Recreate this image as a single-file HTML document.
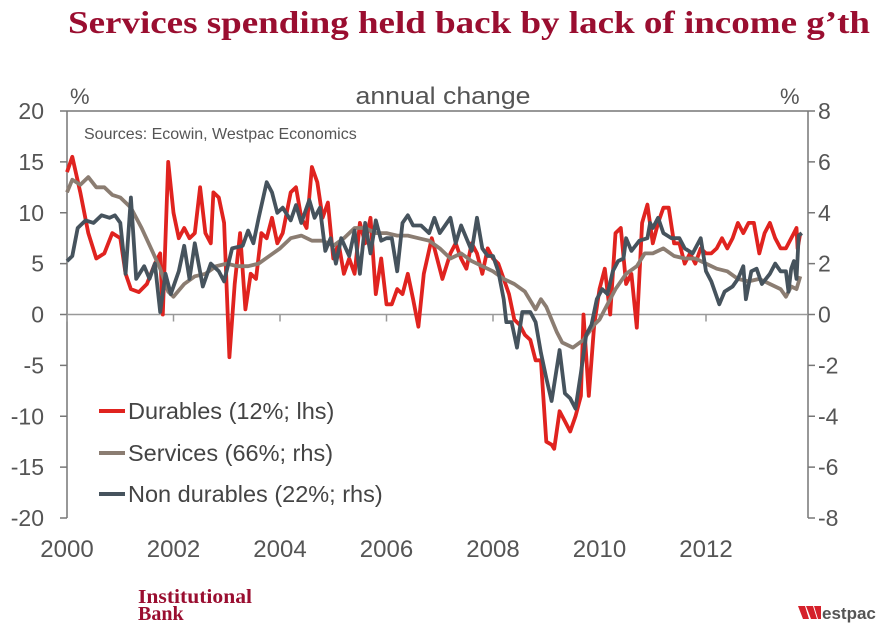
<!DOCTYPE html>
<html><head><meta charset="utf-8">
<style>
html,body{margin:0;padding:0;background:#fff;}
svg{display:block;font-family:"Liberation Sans",sans-serif;}
</style></head>
<body>
<svg id="chart" width="884" height="627" viewBox="0 0 884 627">
<text x="68" y="33" font-family="Liberation Serif,serif" font-weight="bold" font-size="32" fill="#9a0e30" textLength="802" lengthAdjust="spacingAndGlyphs">Services spending held back by lack of income g’th</text>
<g id="axes"></g>
<text x="443" y="104" text-anchor="middle" font-size="24" fill="#555" textLength="175" lengthAdjust="spacingAndGlyphs">annual change</text>
<text x="70" y="104" font-size="22" fill="#555">%</text>
<text x="780" y="104" font-size="22" fill="#555">%</text>
<text x="84" y="139" font-size="16" fill="#555">Sources: Ecowin, Westpac Economics</text>
<g id="series"></g>
<g>
<line x1="99" y1="411" x2="125" y2="411" stroke="#e0231f" stroke-width="4"/>
<text x="128" y="419" font-size="23.5" fill="#444">Durables (12%; lhs)</text>
<line x1="99" y1="453" x2="125" y2="453" stroke="#8b7d72" stroke-width="4"/>
<text x="128" y="461" font-size="23.5" fill="#444">Services (66%; rhs)</text>
<line x1="99" y1="494" x2="125" y2="494" stroke="#46535d" stroke-width="4"/>
<text x="128" y="502" font-size="23.5" fill="#444">Non durables (22%; rhs)</text>
</g>
<text x="138" y="603" font-family="Liberation Serif,serif" font-weight="bold" font-size="20" fill="#9a0e30" textLength="114" lengthAdjust="spacingAndGlyphs">Institutional</text>
<text x="138" y="620" font-family="Liberation Serif,serif" font-weight="bold" font-size="20" fill="#9a0e30">Bank</text>
<g>
<polygon points="798,606 805,606 809,619 803,619" fill="#d5202a"/>
<polygon points="806,606 813,606 817,619 811,619" fill="#d5202a"/>
<polygon points="814,606 821,606 821,619 818,619" fill="#d5202a"/>
<text x="822" y="619" font-size="17" fill="#555" font-weight="bold">estpac</text>
</g>
</svg>
<script>
const durX=[2000,2000.1,2000.25,2000.4,2000.55,2000.7,2000.85,2001,2001.1,2001.2,2001.35,2001.5,2001.65,2001.75,2001.8,2001.9,2002,2002.1,2002.2,2002.3,2002.4,2002.5,2002.6,2002.7,2002.75,2002.85,2002.95,2003.05,2003.15,2003.25,2003.35,2003.45,2003.55,2003.65,2003.75,2003.85,2003.95,2004.05,2004.2,2004.3,2004.4,2004.5,2004.6,2004.7,2004.8,2004.9,2005,2005.1,2005.2,2005.3,2005.4,2005.5,2005.6,2005.7,2005.8,2005.9,2006,2006.1,2006.2,2006.3,2006.4,2006.5,2006.6,2006.7,2006.85,2006.95,2007.05,2007.2,2007.3,2007.4,2007.5,2007.6,2007.7,2007.8,2007.9,2008,2008.1,2008.2,2008.3,2008.4,2008.5,2008.6,2008.7,2008.8,2008.9,2009,2009.1,2009.15,2009.25,2009.35,2009.45,2009.55,2009.65,2009.7,2009.8,2009.9,2010,2010.1,2010.2,2010.3,2010.4,2010.5,2010.6,2010.7,2010.8,2010.9,2011,2011.1,2011.2,2011.3,2011.4,2011.5,2011.6,2011.7,2011.8,2011.9,2012,2012.1,2012.2,2012.3,2012.4,2012.5,2012.6,2012.7,2012.8,2012.9,2013,2013.1,2013.2,2013.3,2013.4,2013.5,2013.6,2013.65,2013.7,2013.72,2013.77];
const durY=[14,15.5,12,8,5.5,6,8,7.5,4,2.5,2.2,3,5,6,0,15,10,7.5,8.5,7.5,8,12.5,8,7,12,11.5,9,-4.2,3,8,0.5,4,3.5,8,7.5,9.5,7,8,12,12.5,9.5,8.5,14.5,13,9.5,11,5.5,7,4,5.5,4,9,7,9.5,2,5.5,1,1,2.5,2,4,1.5,-1.2,4,7.5,5.5,3.5,6,7,5.5,4.5,7,6,4,6.5,5.5,5,3.5,2,-0.5,-1,-2,-2.5,-4.5,-4.5,-12.5,-12.8,-13.2,-9.5,-10.5,-11.5,-10,-8,0,-8,-1,2.5,4.5,0,8,8.5,3,4,-1.3,9,10.8,7,9,10.5,10.5,7,7,5,6,5,6.5,6,6,6.5,7.5,6.5,7.5,9,8,9,9,6,8,9,7.5,6.5,6.5,7.5,8,8.5,6.5,8];
const svcX=[2000,2000.1,2000.25,2000.4,2000.55,2000.7,2000.85,2001,2001.2,2001.4,2001.6,2001.75,2001.9,2002,2002.2,2002.4,2002.6,2002.8,2003,2003.2,2003.4,2003.6,2003.8,2004,2004.2,2004.4,2004.6,2004.8,2005,2005.2,2005.4,2005.6,2005.8,2006,2006.2,2006.4,2006.6,2006.8,2007,2007.2,2007.4,2007.6,2007.8,2008,2008.2,2008.4,2008.6,2008.8,2008.9,2009,2009.2,2009.3,2009.5,2009.7,2009.9,2010,2010.15,2010.3,2010.5,2010.7,2010.85,2011,2011.2,2011.4,2011.6,2011.8,2012,2012.2,2012.4,2012.6,2012.8,2013,2013.2,2013.4,2013.5,2013.6,2013.7,2013.77];
const svcY=[4.8,5.3,5.1,5.4,5,5,4.7,4.6,4.2,3.4,2.5,1.8,0.9,0.7,1.2,1.5,1.6,1.9,2,1.9,1.9,2,2.3,2.6,3,3.1,2.9,2.9,2.7,3,3.4,3.4,3.2,3.2,3.1,3.1,3,2.9,2.6,2.2,2.4,2.1,1.9,1.7,1.4,1.2,0.9,0.2,0.6,0.3,-0.7,-1.1,-1.3,-1,-0.4,-0.2,0.4,1,1.6,1.9,2.4,2.4,2.6,2.3,2.2,2.2,2,1.8,1.7,1.4,1.3,1.4,1.2,1,0.7,1.1,1,1.5];
const ndX=[2000,2000.1,2000.2,2000.35,2000.5,2000.65,2000.8,2000.9,2001,2001.1,2001.2,2001.3,2001.45,2001.55,2001.65,2001.75,2001.85,2001.95,2002.1,2002.2,2002.3,2002.4,2002.55,2002.7,2002.85,2002.95,2003.1,2003.3,2003.4,2003.5,2003.6,2003.75,2003.85,2003.95,2004.05,2004.2,2004.3,2004.4,2004.55,2004.65,2004.75,2004.85,2004.95,2005.05,2005.15,2005.3,2005.4,2005.5,2005.6,2005.7,2005.8,2005.9,2006,2006.1,2006.2,2006.3,2006.4,2006.5,2006.65,2006.8,2006.9,2007,2007.1,2007.2,2007.3,2007.4,2007.5,2007.6,2007.7,2007.8,2007.9,2008,2008.1,2008.2,2008.25,2008.35,2008.45,2008.55,2008.7,2008.8,2008.9,2009,2009.1,2009.25,2009.35,2009.45,2009.55,2009.65,2009.75,2009.85,2009.95,2010.05,2010.15,2010.25,2010.35,2010.45,2010.5,2010.6,2010.75,2010.9,2010.95,2011,2011.1,2011.2,2011.35,2011.5,2011.6,2011.75,2011.9,2012,2012.1,2012.25,2012.35,2012.5,2012.6,2012.7,2012.75,2012.85,2012.95,2013.05,2013.2,2013.3,2013.4,2013.5,2013.55,2013.6,2013.65,2013.7,2013.74,2013.8];
const ndY=[2.1,2.3,3.4,3.7,3.6,3.9,3.8,3.9,3.6,1.6,4.6,1.4,1.9,1.4,2,0.1,1.6,0.8,1.7,2.7,1.4,2.8,1.1,2,1.7,1.3,2.6,2.7,3.3,2.8,3.8,5.2,4.8,4,4.2,3.7,4.3,3.6,4.5,3.8,4.2,2.5,3,2,3,2.3,3.3,1.6,3.6,2.4,3.7,2.9,3,3,1.7,3.6,3.9,3.5,3.5,3.2,3.8,3.2,3.5,3.8,2.8,3.5,3,2.5,3.8,2.6,2.3,2.3,1.7,0.6,-0.3,-0.3,-1.3,0.1,0.1,-0.3,-1.5,-2.5,-3.4,-1.4,-3.1,-3.3,-3.7,-2.3,-0.8,-0.4,0.6,1,0.8,1.7,2.1,2.2,3,2.5,2.9,3,3.6,3.4,3.8,3.2,3,3,2.6,2.4,3,1.7,1.3,0.4,0.9,1.1,1.4,1.9,0.6,1.7,1.8,1.2,1.6,2,1.7,1.7,0.9,1.8,2.1,1.4,3.1,3.2];
const lhsTicks=[20,15,10,5,0,-5,-10,-15,-20];
const rhsTicks=[8,6,4,2,0,-2,-4,-6,-8];
const yearTicks=[2000,2002,2004,2006,2008,2010,2012];

const L=67,R=808,T=111,B=518;
const xS=y=>L+(y-2000)*53.25;
const yL=v=>T+(20-v)/40*(B-T);
const yR=v=>T+(8-v)/16*(B-T);
const NS="http://www.w3.org/2000/svg";
function mk(tag,attrs,parent){const e=document.createElementNS(NS,tag);for(const k in attrs)e.setAttribute(k,attrs[k]);parent.appendChild(e);return e;}
const ax=document.getElementById('axes');
const g=document.getElementById('series');
let e;
e=mk('line',{x1:L,y1:T,x2:R,y2:T,stroke:'#777','stroke-width':1.5},ax);


e=mk('line',{x1:L,y1:T,x2:L,y2:B,stroke:'#777','stroke-width':1.5},ax);


e=mk('line',{x1:R,y1:T,x2:R,y2:B,stroke:'#777','stroke-width':1.5},ax);


e=mk('line',{x1:L,y1:yL(0),x2:R,y2:yL(0),stroke:'#999','stroke-width':1.5},ax);


lhsTicks.forEach(v=>{
  mk('line',{x1:L-7,y1:yL(v),x2:L,y2:yL(v),stroke:'#777','stroke-width':1.5},ax);
  const t=mk('text',{x:44,y:yL(v)+8,'text-anchor':'end','font-size':23,fill:'#555'},ax);
  t.textContent=v;
  
  
});
rhsTicks.forEach(v=>{
  mk('line',{x1:R,y1:yR(v),x2:R+7,y2:yR(v),stroke:'#777','stroke-width':1.5},ax);
  const t=mk('text',{x:818,y:yR(v)+8,'font-size':23,fill:'#555'},ax);
  t.textContent=v;
  
  
});
yearTicks.forEach(v=>{
  mk('line',{x1:xS(v),y1:yL(0),x2:xS(v),y2:yL(0)+7,stroke:'#999','stroke-width':1.5},ax);
  const t=mk('text',{x:xS(v),y:557,'text-anchor':'middle','font-size':24,fill:'#555'},ax);
  t.textContent=v;
  
  
});
function line(xs,ys,yf,color,name){
  const d=xs.map((x,i)=>(i?'L':'M')+xS(x).toFixed(1)+','+yf(ys[i]).toFixed(1)).join('');
  const p=mk('path',{d:d,fill:'none',stroke:color,'stroke-width':3.8,'stroke-linejoin':'round'},g);
  
  
}
line(durX,durY,yL,'#e0231f','durables-line');
line(svcX,svcY,yR,'#8b7d72','services-line');
line(ndX,ndY,yR,'#46535d','non-durables-line');
</script>
</body></html>
